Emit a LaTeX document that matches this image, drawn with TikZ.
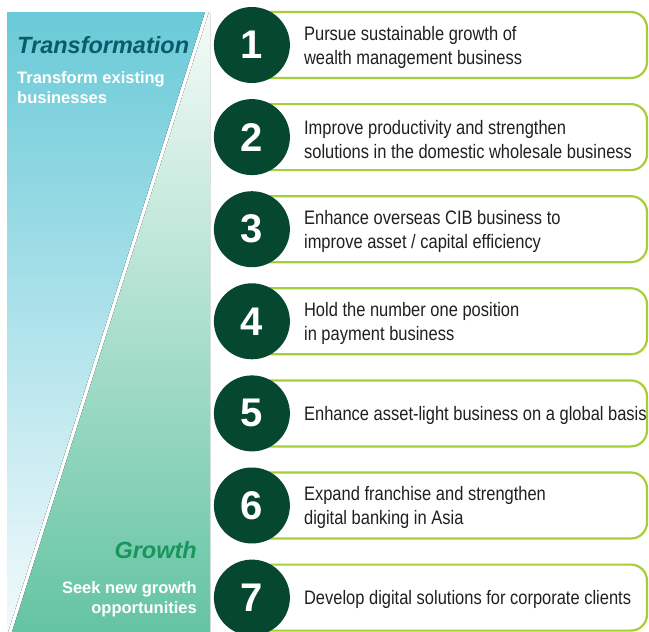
\documentclass[tikz,border=0pt]{standalone}
\usepackage{fontspec}
\setmainfont{Liberation Sans}
\newfontfamily\condfont[FakeStretch=0.845]{Liberation Sans}
\usetikzlibrary{positioning}
\definecolor{bluetop}{RGB}{106,202,216}
\definecolor{bluebot}{RGB}{242,250,252}
\definecolor{greentop}{RGB}{245,251,248}
\definecolor{greenbot}{RGB}{100,196,163}
\definecolor{discgreen}{RGB}{5,71,47}
\definecolor{limeline}{RGB}{166,206,57}
\definecolor{transteal}{RGB}{10,93,104}
\definecolor{growthgreen}{RGB}{24,150,92}
\definecolor{inkgrey}{RGB}{35,31,32}

\begin{document}
\begin{tikzpicture}[x=1pt,y=-1pt,
  aimbox/.style={draw=limeline, line width=2.2pt, fill=white, rounded corners=16pt, minimum width=394pt, minimum height=66pt, inner sep=0pt},
  numdisc/.style={circle, fill=discgreen, text=white, minimum size=76pt, inner sep=0pt, font=\fontsize{40}{40}\selectfont\bfseries},
  aimlabel/.style={inner sep=0pt, yshift=-2pt, align=left, text=inkgrey, font=\fontsize{19.5}{24}\selectfont\condfont},
  headlabel/.style={inner sep=0pt, font=\fontsize{23.5}{28}\selectfont\bfseries\itshape},
  sublabel/.style={inner sep=0pt, text=white, font=\fontsize{16.5}{20}\selectfont\bfseries}]
\useasboundingbox (0,0) rectangle (649,632);

%Shape: left panel, blue part
\fill [top color=bluetop, bottom color=bluebot] (7,12) -- (205,12) -- (8,632) -- (7,632) -- cycle ;
%Shape: left panel, green part
\fill [top color=greentop, bottom color=greenbot] (209,12) -- (210,12) -- (210,632) -- (12,632) -- cycle ;

% Text Node
\node [headlabel, text=transteal, anchor=base west] (trhead) at (17,53) {Transformation};
% Text Node
\node [sublabel, anchor=north west, align=left] (trsub) at (17,71) {Transform existing\\businesses};
% Text Node
\node [headlabel, text=growthgreen, anchor=base east] (grhead) at (197,558) {Growth};
% Text Node
\node [sublabel, anchor=north east, align=right] (grsub) at (197,581) {Seek new growth\\opportunities};

%Aim 1
\node [aimbox] (b1) at (450,45) {};
\node [numdisc] (n1) at (b1.west) {1};
\node [aimlabel, right=52pt of b1.west] (t1) {Pursue sustainable growth of\\wealth management business};
%Aim 2
\node [aimbox] (b2) at (450,137.1) {};
\node [numdisc] (n2) at (b2.west) {2};
\node [aimlabel, right=52pt of b2.west] (t2) {Improve productivity and strengthen\\solutions in the domestic wholesale business};
%Aim 3
\node [aimbox] (b3) at (450,229.2) {};
\node [numdisc] (n3) at (b3.west) {3};
\node [aimlabel, right=52pt of b3.west] (t3) {Enhance overseas CIB business to\\improve asset / capital efficiency};
%Aim 4
\node [aimbox] (b4) at (450,321.3) {};
\node [numdisc] (n4) at (b4.west) {4};
\node [aimlabel, right=52pt of b4.west] (t4) {Hold the number one position\\in payment business};
%Aim 5
\node [aimbox] (b5) at (450,413.4) {};
\node [numdisc] (n5) at (b5.west) {5};
\node [aimlabel, right=52pt of b5.west] (t5) {Enhance asset-light business on a global basis};
%Aim 6
\node [aimbox] (b6) at (450,505.5) {};
\node [numdisc] (n6) at (b6.west) {6};
\node [aimlabel, right=52pt of b6.west] (t6) {Expand franchise and strengthen\\digital banking in Asia};
%Aim 7
\node [aimbox] (b7) at (450,597.6) {};
\node [numdisc] (n7) at (b7.west) {7};
\node [aimlabel, right=52pt of b7.west] (t7) {Develop digital solutions for corporate clients};

\end{tikzpicture}
\end{document}
